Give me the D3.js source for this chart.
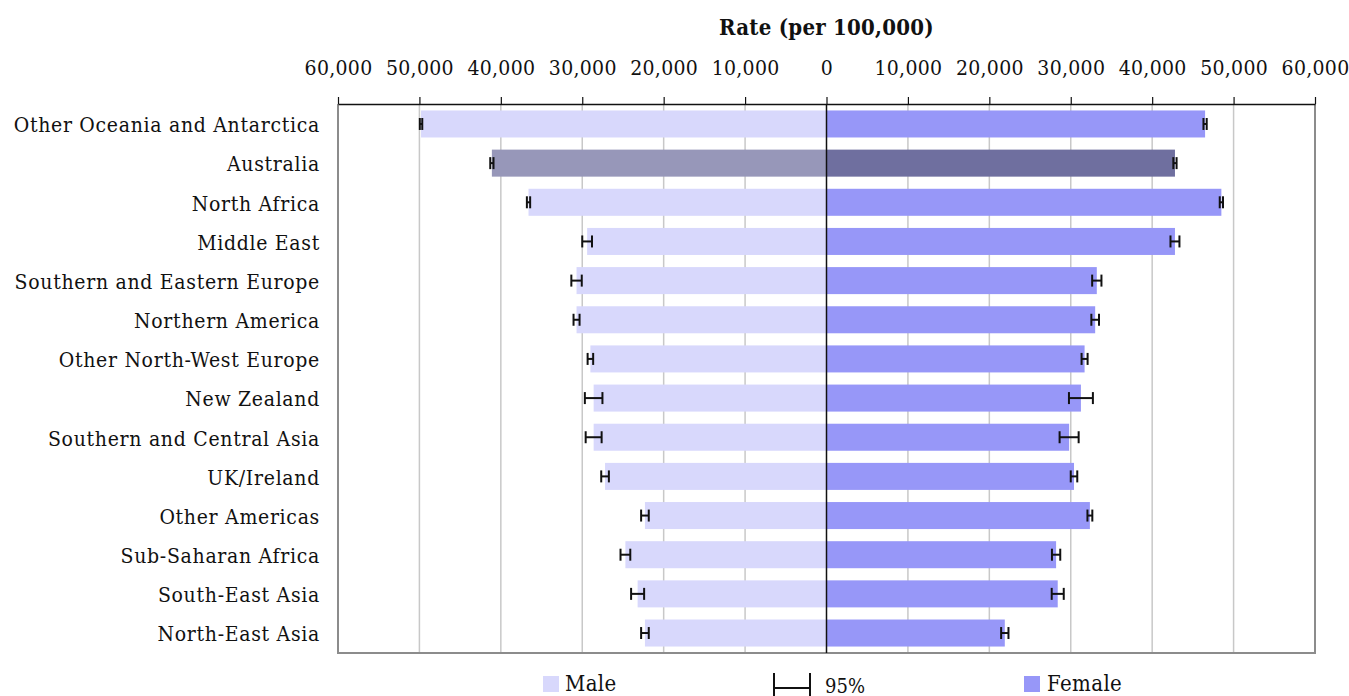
<!DOCTYPE html>
<html>
<head>
<meta charset="utf-8">
<script src="https://cdn.jsdelivr.net/npm/d3@7"></script>
<style>
  body { margin: 0; background: #fff; }
  text { font-family: "DejaVu Serif Condensed", "DejaVu Serif", serif; font-stretch: condensed; fill: #111; }
</style>
</head>
<body>
<div class="canvas"></div>
<script>
// values
var regions = ['Other Oceania and Antarctica', 'Australia', 'North Africa', 'Middle East',
  'Southern and Eastern Europe', 'Northern America', 'Other North-West Europe', 'New Zealand',
  'Southern and Central Asia', 'UK/Ireland', 'Other Americas', 'Sub-Saharan Africa',
  'South-East Asia', 'North-East Asia'];
var maleRate   = [49800, 41100, 36600, 29400, 30700, 30700, 29000, 28600, 28600, 27200, 22300, 24700, 23200, 22300];
var maleCI     = [150, 200, 200, 600, 640, 370, 340, 1080, 980, 470, 470, 600, 800, 470];
var femaleRate = [46500, 42800, 48500, 42800, 33200, 33000, 31700, 31250, 29800, 30400, 32350, 28200, 28400, 21900];
var femaleCI   = [200, 200, 200, 550, 570, 470, 370, 1470, 1170, 400, 300, 510, 740, 450];
var ticks = [-60000, -50000, -40000, -30000, -20000, -10000, 0, 10000, 20000, 30000, 40000, 50000, 60000];
var highlight = 'Australia';

var width = 1349, height = 696;
var svg = d3.select('.canvas').append('svg')
  .attr('width', width).attr('height', height);

var pTop = 104, pBottom = 653, pLeft = 338, pRight = 1315;

var x = d3.scaleLinear().domain([-60000, 60000]).range([pLeft, pRight]);
var y = d3.scaleBand().domain(regions).range([pTop, pBottom])
  .paddingInner(0.31).paddingOuter(0.165);

var fmt = d3.format(',');

// gridlines
svg.append('g').selectAll('line.grid')
  .data(ticks.filter(function(t) { return t !== 0 && Math.abs(t) !== 60000; }))
  .enter().append('line')
  .attr('x1', d => x(d)).attr('x2', d => x(d))
  .attr('y1', pTop).attr('y2', pBottom)
  .attr('stroke', '#c8c8c8').attr('stroke-width', 1.5);

var rows = regions.map(function(r, i) {
  return { name: r, m: maleRate[i], mci: maleCI[i], f: femaleRate[i], fci: femaleCI[i] };
});

// bars
var bars = svg.append('g');
bars.selectAll('rect.male').data(rows).enter().append('rect')
  .attr('x', d => x(-d.m)).attr('width', d => x(0) - x(-d.m))
  .attr('y', d => y(d.name)).attr('height', y.bandwidth())
  .attr('fill', d => d.name === highlight ? '#9797b9' : '#d8d8fc');
bars.selectAll('rect.female').data(rows).enter().append('rect')
  .attr('x', x(0)).attr('width', d => x(d.f) - x(0))
  .attr('y', d => y(d.name)).attr('height', y.bandwidth())
  .attr('fill', d => d.name === highlight ? '#6f6f9f' : '#9797f8');

// frame: left/right/bottom gray
svg.append('path')
  .attr('d', 'M' + pLeft + ',' + pTop + 'V' + pBottom + 'H' + pRight + 'V' + pTop)
  .attr('fill', 'none').attr('stroke', '#8c8c8c').attr('stroke-width', 2);

// zero line
svg.append('line')
  .attr('x1', x(0)).attr('x2', x(0)).attr('y1', pTop).attr('y2', pBottom)
  .attr('stroke', '#111').attr('stroke-width', 1.5);

// error bars
function errBar(g, lo, hi, cy) {
  var h = 6;
  g.append('line').attr('x1', lo).attr('x2', hi).attr('y1', cy).attr('y2', cy);
  g.append('line').attr('x1', lo).attr('x2', lo).attr('y1', cy - h).attr('y2', cy + h);
  g.append('line').attr('x1', hi).attr('x2', hi).attr('y1', cy - h).attr('y2', cy + h);
}
var eg = svg.append('g').attr('stroke', '#111').attr('stroke-width', 2);
rows.forEach(function(d) {
  var cy = y(d.name) + y.bandwidth() / 2;
  errBar(eg, x(-d.m - d.mci), x(-d.m + d.mci), cy);
  errBar(eg, x(d.f - d.fci), x(d.f + d.fci), cy);
});

// top axis
var axis = d3.axisTop(x).tickValues(ticks)
  .tickFormat(d => fmt(Math.abs(d))).tickSize(7).tickSizeOuter(0).tickPadding(22);
var ag = svg.append('g').attr('transform', 'translate(0,' + pTop + ')').call(axis);
ag.select('.domain').attr('stroke', '#111').attr('stroke-width', 1.5);
ag.selectAll('.tick line').attr('stroke', '#111').attr('stroke-width', 1.2);
ag.selectAll('.tick text').style('font-size', '21px').style('letter-spacing', '0.3px')
  .style('font-family', '"DejaVu Serif Condensed", "DejaVu Serif", serif').attr('fill', '#111');

svg.append('text')
  .attr('x', x(0)).attr('y', 35).attr('text-anchor', 'middle')
  .style('font-size', '22px').style('font-weight', 'bold').style('letter-spacing', '0.25px')
  .text('Rate (per 100,000)');

// category labels
svg.append('g').selectAll('text.cat').data(regions).enter().append('text')
  .attr('x', 320).attr('y', d => y(d) + y.bandwidth() / 2 + 1)
  .attr('dy', '0.35em').attr('text-anchor', 'end')
  .style('font-size', '21px').style('letter-spacing', '0.7px')
  .text(d => d);

// legend
var lg = svg.append('g');
lg.append('rect').attr('x', 543).attr('y', 676).attr('width', 16).attr('height', 16).attr('fill', '#d8d8fc');
lg.append('text').attr('x', 565).attr('y', 691).style('font-size', '22px').style('letter-spacing', '0.4px').text('Male');
var le = lg.append('g').attr('stroke', '#111').attr('stroke-width', 2);
le.append('line').attr('x1', 774).attr('x2', 810).attr('y1', 688).attr('y2', 688);
le.append('line').attr('x1', 774).attr('x2', 774).attr('y1', 673).attr('y2', 696);
le.append('line').attr('x1', 810).attr('x2', 810).attr('y1', 673).attr('y2', 696);
lg.append('text').attr('x', 825).attr('y', 693).style('font-size', '20px').text('95%');
lg.append('rect').attr('x', 1024).attr('y', 676).attr('width', 16).attr('height', 16).attr('fill', '#9797f8');
lg.append('text').attr('x', 1047).attr('y', 691).style('font-size', '22px').style('letter-spacing', '0.4px').text('Female');
</script>
</body>
</html>
